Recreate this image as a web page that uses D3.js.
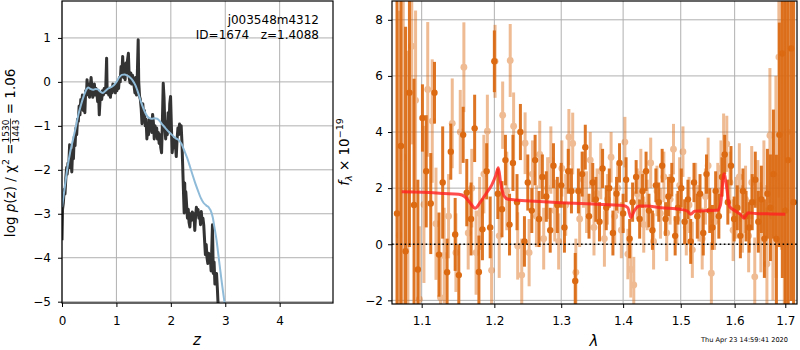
<!DOCTYPE html>
<html><head><meta charset="utf-8">
<script src="https://cdn.jsdelivr.net/npm/d3@7"></script>
<style>body{margin:0;background:#fff}svg{display:block}text{font-family:"DejaVu Sans",sans-serif}</style>
</head><body><svg id="c" width="800" height="350"></svg>
<script>
// ---------- Left panel data: log p(z) ----------
const zPdf = [0.000,0.010,0.025,0.040,0.055,0.070,0.085,0.095,0.110,0.125,0.140,0.150,0.165,0.180,0.195,0.210,0.225,0.240,0.255,0.270,0.285,0.300,0.315,0.330,0.345,0.360,0.375,0.390,0.405,0.420,0.435,0.450,0.460,0.475,0.490,0.505,0.520,0.535,0.550,0.565,0.580,0.595,0.610,0.625,0.640,0.655,0.670,0.685,0.700,0.715,0.730,0.745,0.760,0.775,0.790,0.805,0.820,0.830,0.845,0.860,0.875,0.890,0.905,0.920,0.935,0.950,0.965,0.980,0.995,1.010,1.025,1.040,1.055,1.070,1.085,1.100,1.115,1.130,1.145,1.160,1.175,1.190,1.205,1.220,1.235,1.250,1.265,1.280,1.295,1.310,1.325,1.340,1.355,1.370,1.385,1.400,1.410,1.425,1.440,1.455,1.470,1.485,1.500,1.515,1.530,1.545,1.560,1.575,1.590,1.605,1.620,1.635,1.650,1.665,1.680,1.695,1.710,1.725,1.740,1.755,1.770,1.785,1.800,1.815,1.830,1.845,1.860,1.875,1.890,1.905,1.920,1.935,1.950,1.965,1.980,1.995,2.010,2.025,2.040,2.055,2.070,2.085,2.100,2.115,2.130,2.145,2.160,2.175,2.190,2.205,2.215,2.225,2.235,2.245,2.255,2.265,2.275,2.290,2.305,2.320,2.335,2.350,2.365,2.380,2.395,2.410,2.425,2.440,2.455,2.470,2.485,2.500,2.515,2.530,2.545,2.560,2.575,2.590,2.605,2.620,2.635,2.650,2.665,2.680,2.695,2.710,2.725,2.740,2.755,2.765,2.780,2.795,2.810,2.825,2.840,2.855,2.870,2.880];
const logPdf = [-3.6,-2.9,-2.75,-2.45,-2.55,-2.2,-1.95,-2.1,-1.85,-1.9,-1.43,-1.95,-1.7,-2.05,-1.55,-1.75,-1.25,-1.45,-1.05,-1.2,-0.85,-0.9,-0.55,-0.75,-0.4,-0.55,-0.3,-0.65,-0.45,-0.7,-0.2,-0.3,0.05,-0.25,-0.05,-0.35,-0.1,0.1,-0.15,-0.35,-0.2,-0.05,-0.3,-0.15,-0.25,-0.45,-0.2,-0.75,-0.4,-0.25,-0.4,-0.2,-0.3,-0.15,-0.25,-0.1,0.54,-0.25,-0.15,-0.3,-0.2,-0.35,-0.15,-0.25,-0.05,-0.2,-0.1,-0.25,-0.05,-0.2,0.0,-0.15,0.1,0.0,0.35,0.15,0.58,0.1,0.3,0.05,0.43,0.2,0.5,0.65,0.1,-0.02,0.2,-0.05,0.15,0.05,-0.1,-0.25,0.1,-0.3,0.2,0.96,0.0,-0.33,-0.4,-0.6,-0.95,-0.5,-0.8,-0.65,-1.0,-0.85,-1.3,-0.95,-1.2,-0.85,-1.05,-0.9,-1.15,-0.74,-0.93,-1.3,-1.0,-1.2,-1.05,-1.3,-1.15,-1.4,-1.2,-1.5,-1.61,-0.9,-0.03,-0.35,-1.0,-1.3,-0.9,-1.2,-0.7,-1.1,-0.5,-0.33,-1.0,-1.61,-1.4,-1.5,-1.3,-1.45,-1.7,-1.3,-1.05,-1.2,-0.96,-1.1,-1.0,-1.4,-1.8,-2.2,-2.6,-2.98,-2.3,-2.9,-2.5,-2.8,-3.1,-2.9,-3.2,-3.3,-3.0,-3.15,-2.96,-3.1,-3.0,-3.38,-3.05,-2.85,-3.0,-2.9,-3.1,-3.0,-3.25,-2.95,-3.2,-3.1,-3.26,-3.6,-3.93,-3.7,-4.0,-4.13,-3.9,-4.1,-3.98,-4.3,-3.7,-3.25,-4.36,-4.1,-4.6,-4.45,-4.36,-4.7,-5.1,-5.5];
const zSmooth = [0.00,0.05,0.10,0.15,0.20,0.25,0.30,0.35,0.40,0.45,0.48,0.52,0.57,0.62,0.66,0.70,0.75,0.80,0.85,0.90,0.95,1.00,1.05,1.10,1.15,1.20,1.25,1.30,1.35,1.40,1.45,1.50,1.55,1.60,1.65,1.70,1.75,1.80,1.85,1.90,1.95,2.00,2.05,2.10,2.15,2.20,2.25,2.30,2.35,2.40,2.45,2.50,2.55,2.60,2.65,2.70,2.73,2.77,2.80,2.84,2.87,2.90,2.93,2.96,2.99];
const logSmooth = [-2.85,-2.4,-1.95,-1.6,-1.32,-1.05,-0.75,-0.52,-0.32,-0.17,-0.13,-0.16,-0.18,-0.16,-0.17,-0.22,-0.25,-0.2,-0.15,-0.12,-0.08,0.0,0.1,0.16,0.17,0.14,0.1,0.03,-0.08,-0.25,-0.45,-0.62,-0.75,-0.82,-0.84,-0.83,-0.84,-0.9,-0.98,-1.05,-1.12,-1.18,-1.24,-1.29,-1.33,-1.42,-1.57,-1.73,-1.92,-2.12,-2.31,-2.48,-2.64,-2.75,-2.81,-2.86,-2.92,-3.08,-3.3,-3.6,-3.9,-4.2,-4.5,-4.78,-5.05];
const zTicks = [0,1,2,3,4];
const logTicks = [-5,-4,-3,-2,-1,0,1];

// ---------- Right panel data: spectrum (units 1e-19) ----------
const lamA = [1.068,1.073,1.079,1.084,1.090,1.095,1.101,1.106,1.112,1.117,1.123,1.128,1.134,1.139,1.145,1.150,1.156,1.161,1.167,1.172,1.178,1.183,1.189,1.194,1.200,1.205,1.211,1.216,1.222,1.227,1.233,1.238,1.244,1.249,1.255,1.260,1.266,1.271,1.277,1.283,1.288,1.294,1.300,1.305,1.311,1.316,1.322,1.327,1.333,1.338,1.344,1.350,1.355,1.361,1.366,1.372,1.377,1.383,1.389,1.394,1.400,1.405,1.411,1.416,1.422,1.428,1.433,1.439,1.444,1.450,1.456,1.461,1.467,1.473,1.478,1.484,1.490,1.495,1.501,1.507,1.513,1.518,1.524,1.530,1.535,1.541,1.547,1.553,1.558,1.564,1.570,1.576,1.581,1.587,1.593,1.599,1.605,1.611,1.616,1.622,1.628,1.634,1.640,1.646,1.652,1.658,1.664,1.670,1.676,1.682,1.688,1.694,1.700,1.706,1.712,1.717];
const fluxA = [1.1,3.5,-0.25,5.4,1.4,-0.9,4.5,2.6,1.45,5.4,-0.37,2.2,-1.0,3.3,0.35,-1.1,3.9,1.84,0.9,4.13,-0.99,0.53,2.6,0.6,6.52,1.8,1.25,3.0,0.7,2.9,1.5,4.0,0.1,2.2,1.2,3.0,0.9,2.4,1.7,0.5,2.8,1.4,2.1,0.6,2.6,1.9,-1.31,1.9,2.5,3.46,1.0,2.2,1.6,0.8,2.7,1.3,2.0,0.4,1.8,2.9,1.1,2.3,0.2,1.5,2.4,0.9,1.9,2.6,1.2,0.5,2.1,1.5,2.8,0.9,1.7,2.3,0.3,1.3,2.0,0.8,1.6,0.1,2.2,1.0,1.8,0.4,2.5,1.2,0.6,1.9,1.0,2.4,3.2,1.5,2.8,0.9,1.3,0.3,1.9,1.0,0.6,1.5,2.3,0.8,1.6,0.2,1.8,1.3,2.5,0.19,3.9,6.8,1.2,3.0,6.98,1.5];
const errA = [9,7,8,5.5,4.5,3.2,1.2,2.0,1.8,1.1,1.5,2.0,1.2,1.0,1.3,1.1,1.0,1.2,1.3,1.2,1.3,1.1,1.0,1.1,1.1,0.9,1.0,0.9,1.1,1.0,1.0,1.0,0.9,1.0,0.8,0.9,1.0,0.8,0.9,0.8,0.8,1.0,0.8,0.9,0.8,0.8,1.0,0.8,0.8,0.8,0.8,0.7,0.8,0.7,0.7,0.8,0.7,0.8,0.6,0.7,0.7,0.8,0.7,0.7,0.6,0.7,0.6,0.7,0.6,0.7,0.6,0.7,0.6,0.6,0.7,0.6,0.7,0.6,0.7,0.8,0.7,0.8,0.7,0.8,0.7,0.8,0.7,0.8,0.8,0.7,0.8,0.7,0.7,0.8,0.7,0.8,0.8,0.8,0.8,0.9,0.9,1.0,1.0,1.1,1.2,1.4,1.6,1.9,2.3,3.0,4.0,8,9,6,9,10];
const lamB = [1.071,1.076,1.082,1.087,1.092,1.097,1.103,1.108,1.114,1.119,1.125,1.130,1.136,1.141,1.146,1.152,1.157,1.163,1.168,1.174,1.179,1.185,1.190,1.196,1.201,1.207,1.212,1.218,1.223,1.228,1.234,1.240,1.245,1.251,1.256,1.262,1.267,1.273,1.279,1.284,1.290,1.296,1.301,1.307,1.312,1.318,1.323,1.329,1.335,1.340,1.346,1.352,1.357,1.363,1.369,1.374,1.380,1.386,1.391,1.397,1.403,1.408,1.413,1.418,1.424,1.430,1.435,1.441,1.447,1.452,1.458,1.464,1.470,1.475,1.481,1.487,1.493,1.498,1.504,1.510,1.515,1.521,1.527,1.533,1.539,1.545,1.550,1.556,1.562,1.568,1.574,1.579,1.585,1.591,1.597,1.603,1.609,1.615,1.621,1.627,1.633,1.639,1.645,1.651,1.657,1.663,1.669,1.675,1.681,1.687,1.692,1.698,1.704];
const fluxB = [0.32,3.1,1.9,7.06,5.13,-1.96,1.42,5.52,4.39,0.73,-1.9,-0.4,1.0,4.31,-0.3,4.0,6.31,0.4,2.0,-0.3,1.1,2.5,4.03,-0.93,6.52,0.3,4.6,1.9,6.55,4.21,-0.06,-1.1,3.6,-0.3,2.5,1.0,3.2,0.2,2.0,3.0,1.2,0.1,2.7,1.4,3.82,3.59,-1.0,0.9,2.3,1.5,3.0,0.6,1.8,2.6,0.2,1.6,3.1,1.0,2.0,0.5,3.64,-0.35,-0.9,-1.45,1.8,2.5,0.7,1.4,2.9,0.1,1.9,1.1,2.4,0.4,1.6,3.39,0.9,2.1,3.3,0.6,1.4,-0.2,2.0,1.1,0.2,1.7,2.8,-1.03,0.8,1.9,2.7,3.56,3.58,2.2,0.5,1.3,2.4,0.9,1.6,0.3,2.2,-1.16,1.5,0.6,2.0,-0.7,3.88,1.0,2.4,6.67,5.8,2.0,4.0];
const errB = [8,6,5,3.5,3.2,2.6,2.8,2.4,2.2,2.0,1.6,1.7,1.5,1.6,1.4,1.5,1.6,1.3,1.4,1.5,1.3,1.4,1.3,1.4,1.3,1.5,1.2,1.4,1.3,1.2,1.2,1.3,1.1,1.2,1.2,1.1,1.2,1.1,1.1,1.2,1.1,1.0,1.0,1.1,1.0,1.1,1.2,1.0,1.0,1.1,1.0,1.0,0.9,1.0,1.0,0.9,0.9,1.0,0.9,1.0,0.9,0.9,1.0,1.0,0.9,0.9,1.0,0.9,0.9,1.0,0.9,0.9,0.9,1.0,0.9,0.9,0.9,1.0,0.9,1.0,1.0,1.0,0.9,1.0,1.1,1.0,1.0,1.1,1.0,1.0,1.0,1.1,1.0,1.1,1.1,1.1,1.2,1.2,1.2,1.3,1.3,1.4,1.5,1.6,1.7,2.0,2.4,3.0,3.6,5.0,6.0,8,9];
const lamModel = [1.074,1.090,1.110,1.130,1.150,1.158,1.165,1.1726,1.180,1.188,1.196,1.202,1.2057,1.209,1.214,1.220,1.235,1.260,1.300,1.350,1.400,1.408,1.413,1.419,1.428,1.440,1.465,1.500,1.512,1.518,1.525,1.550,1.567,1.573,1.5797,1.585,1.590,1.600,1.612,1.618,1.626,1.640,1.670,1.700];
const fluxModel = [1.87,1.86,1.84,1.81,1.78,1.7,1.5,1.28,1.5,1.8,2.1,2.45,2.73,2.2,1.72,1.6,1.57,1.53,1.48,1.43,1.38,1.3,0.95,1.2,1.36,1.36,1.3,1.24,1.18,1.07,1.18,1.2,1.21,1.4,2.51,2.0,1.35,1.2,1.05,0.93,1.12,1.1,1.08,1.07];
const lamTicks = [1.1,1.2,1.3,1.4,1.5,1.6,1.7];
const fluxTicks = [-2,0,2,4,6,8];

// ---------- Layout ----------
const svg = d3.select('#c');
const L = {x0:62, x1:333, y0:1, y1:303};
const R = {x0:392, x1:797, y0:1, y1:304};
const gridC = '#b0b0b0';

const xz = d3.scaleLinear().domain([0,4.98]).range([L.x0,L.x1]);
const yl = d3.scaleLinear().domain([-5.03,1.84]).range([L.y1,L.y0]);
const xl = d3.scaleLog().domain([1.0616,1.724]).range([R.x0,R.x1]);
const yf = d3.scaleLinear().domain([-2.13,8.67]).range([R.y1,R.y0]);

const defs = svg.append('defs');
defs.append('clipPath').attr('id','clipL').append('rect').attr('x',L.x0).attr('y',L.y0).attr('width',L.x1-L.x0).attr('height',L.y1-L.y0);
defs.append('clipPath').attr('id','clipR').append('rect').attr('x',R.x0).attr('y',R.y0).attr('width',R.x1-R.x0).attr('height',R.y1-R.y0);

function fmtNum(d){ return d < 0 ? '\u2212' + Math.abs(d) : String(d); }

// ---------- Left panel ----------
const gL = svg.append('g');
gL.selectAll('.vg').data(zTicks).join('line').attr('x1',d=>xz(d)).attr('x2',d=>xz(d)).attr('y1',L.y0).attr('y2',L.y1).attr('stroke',gridC).attr('stroke-width',1);
gL.selectAll('.hg').data(logTicks).join('line').attr('x1',L.x0).attr('x2',L.x1).attr('y1',d=>yl(d)).attr('y2',d=>yl(d)).attr('stroke',gridC).attr('stroke-width',1);

const pdfPts = zPdf.map((z,i)=>[z,logPdf[i]]);
const smPts = zSmooth.map((z,i)=>[z,logSmooth[i]]);
const lineL = d3.line().x(d=>xz(d[0])).y(d=>yl(d[1]));
const cl = gL.append('g').attr('clip-path','url(#clipL)');
cl.append('path').datum(pdfPts).attr('d',lineL).attr('fill','none').attr('stroke','#333').attr('stroke-width',3).attr('stroke-linejoin','round');
cl.append('path').datum(smPts).attr('d',lineL.curve(d3.curveMonotoneX)).attr('fill','none').attr('stroke','#8fbbd9').attr('stroke-width',2);

gL.append('g').attr('transform',`translate(0,${L.y1})`).call(d3.axisBottom(xz).tickValues(zTicks).tickSize(4).tickPadding(9).tickFormat(fmtNum));
gL.append('g').attr('transform',`translate(${L.x0},0)`).call(d3.axisLeft(yl).tickValues(logTicks).tickSize(4).tickPadding(7).tickFormat(fmtNum));
gL.append('rect').attr('x',L.x0).attr('y',L.y0).attr('width',L.x1-L.x0).attr('height',L.y1-L.y0).attr('fill','none').attr('stroke','#000').attr('stroke-width',1.2);

svg.append('text').attr('x',319).attr('y',24).attr('text-anchor','end').attr('font-size',12).text('j003548m4312');
svg.append('text').attr('x',319).attr('y',39).attr('text-anchor','end').attr('font-size',12).style('white-space','pre').text('ID=1674   z=1.4088');

svg.append('text').attr('x',197).attr('y',345).attr('text-anchor','middle').attr('font-size',15).attr('font-style','italic').text('z');

// left y label with stacked fraction
(function(){
  const g = svg.append('g').attr('transform','translate(15,155) rotate(-90)');
  const fs = 13.5;
  const t1 = g.append('text').attr('font-size',fs);
  t1.append('tspan').text('log ');
  t1.append('tspan').attr('font-style','italic').text('p');
  t1.append('tspan').text('(z) / \u03c7');
  t1.append('tspan').attr('font-size',9.5).attr('dy',-6).text('2');
  t1.append('tspan').attr('dy',6).text(' = ');
  const w1 = t1.node().getComputedTextLength();
  const num = g.append('text').attr('font-size',9).attr('text-anchor','middle').text('1530');
  const den = g.append('text').attr('font-size',9).attr('text-anchor','middle').text('1443');
  const wf = Math.max(num.node().getComputedTextLength(), den.node().getComputedTextLength()) + 2;
  const t3 = g.append('text').attr('font-size',fs).text(' = 1.06');
  const w3 = t3.node().getComputedTextLength();
  const total = w1 + wf + w3;
  const x0 = -total/2;
  t1.attr('x',x0);
  num.attr('x',x0+w1+wf/2).attr('y',-6.5);
  den.attr('x',x0+w1+wf/2).attr('y',3.5);
  g.append('line').attr('x1',x0+w1).attr('x2',x0+w1+wf).attr('y1',-4.5).attr('y2',-4.5).attr('stroke','#000').attr('stroke-width',0.7);
  t3.attr('x',x0+w1+wf).style('white-space','pre');
})();

// ---------- Right panel ----------
const gR = svg.append('g');
gR.selectAll('.vg').data(lamTicks).join('line').attr('x1',d=>xl(d)).attr('x2',d=>xl(d)).attr('y1',R.y0).attr('y2',R.y1).attr('stroke',gridC).attr('stroke-width',1);
gR.selectAll('.hg').data(fluxTicks).join('line').attr('x1',R.x0).attr('x2',R.x1).attr('y1',d=>yf(d)).attr('y2',d=>yf(d)).attr('stroke',gridC).attr('stroke-width',1);

const cr = gR.append('g').attr('clip-path','url(#clipR)');
const orange = '#db6a12';
const A = lamA.map((l,i)=>({l, f:fluxA[i], e:errA[i]}));
const B = lamB.map((l,i)=>({l, f:fluxB[i], e:errB[i]}));

const gA = cr.append('g');
gA.selectAll('line').data(A).join('line').attr('x1',d=>xl(d.l)).attr('x2',d=>xl(d.l)).attr('y1',d=>yf(d.f-d.e)).attr('y2',d=>yf(d.f+d.e)).attr('stroke',orange).attr('stroke-width',3).attr('opacity',0.92);
gA.selectAll('circle').data(A).join('circle').attr('cx',d=>xl(d.l)).attr('cy',d=>yf(d.f)).attr('r',3.2).attr('fill',orange);

const gB = cr.append('g').attr('opacity',0.45);
gB.selectAll('line').data(B).join('line').attr('x1',d=>xl(d.l)).attr('x2',d=>xl(d.l)).attr('y1',d=>yf(d.f-d.e)).attr('y2',d=>yf(d.f+d.e)).attr('stroke',orange).attr('stroke-width',3);
gB.selectAll('circle').data(B).join('circle').attr('cx',d=>xl(d.l)).attr('cy',d=>yf(d.f)).attr('r',3.4).attr('fill',orange);

const mPts = lamModel.map((l,i)=>[l,fluxModel[i]]);
cr.append('path').datum(mPts).attr('d',d3.line().x(d=>xl(d[0])).y(d=>yf(d[1])).curve(d3.curveMonotoneX)).attr('fill','none').attr('stroke','#ff2020').attr('stroke-width',3).attr('opacity',0.8);

cr.append('line').attr('x1',R.x0).attr('x2',R.x1).attr('y1',yf(0)).attr('y2',yf(0)).attr('stroke','#000').attr('stroke-width',1.6).attr('stroke-dasharray','1.6,2.6');

gR.append('g').attr('transform',`translate(0,${R.y1})`).call(d3.axisBottom(xl).tickValues(lamTicks).tickSize(4).tickPadding(8).tickFormat(d3.format('.1f')));
gR.append('g').attr('transform',`translate(${R.x0},0)`).call(d3.axisLeft(yf).tickValues(fluxTicks).tickSize(4).tickPadding(5).tickFormat(fmtNum));
gR.append('rect').attr('x',R.x0).attr('y',R.y0).attr('width',R.x1-R.x0).attr('height',R.y1-R.y0).attr('fill','none').attr('stroke','#000').attr('stroke-width',1.2);

svg.append('text').attr('x',594).attr('y',346).attr('text-anchor','middle').attr('font-size',15).attr('font-style','italic').text('\u03bb');

(function(){
  const g = svg.append('g').attr('transform','translate(349,152) rotate(-90)');
  const t = g.append('text').attr('font-size',13.5).attr('text-anchor','middle');
  t.append('tspan').attr('font-style','italic').text('f');
  t.append('tspan').attr('font-size',9.5).attr('dy',3).attr('font-style','italic').text('\u03bb');
  t.append('tspan').attr('dy',-3).text(' \u00d7 10');
  t.append('tspan').attr('font-size',9.5).attr('dy',-6).text('\u221219');
})();

svg.append('text').attr('x',788).attr('y',342).attr('text-anchor','end').attr('font-size',6.6).text('Thu Apr 23 14:59:41 2020');

// axis styling
svg.selectAll('.tick text').attr('font-size',12).attr('font-family','DejaVu Sans').attr('fill','#000');
svg.selectAll('.tick line').attr('stroke','#000');
svg.selectAll('.domain').remove();
</script></body></html>
